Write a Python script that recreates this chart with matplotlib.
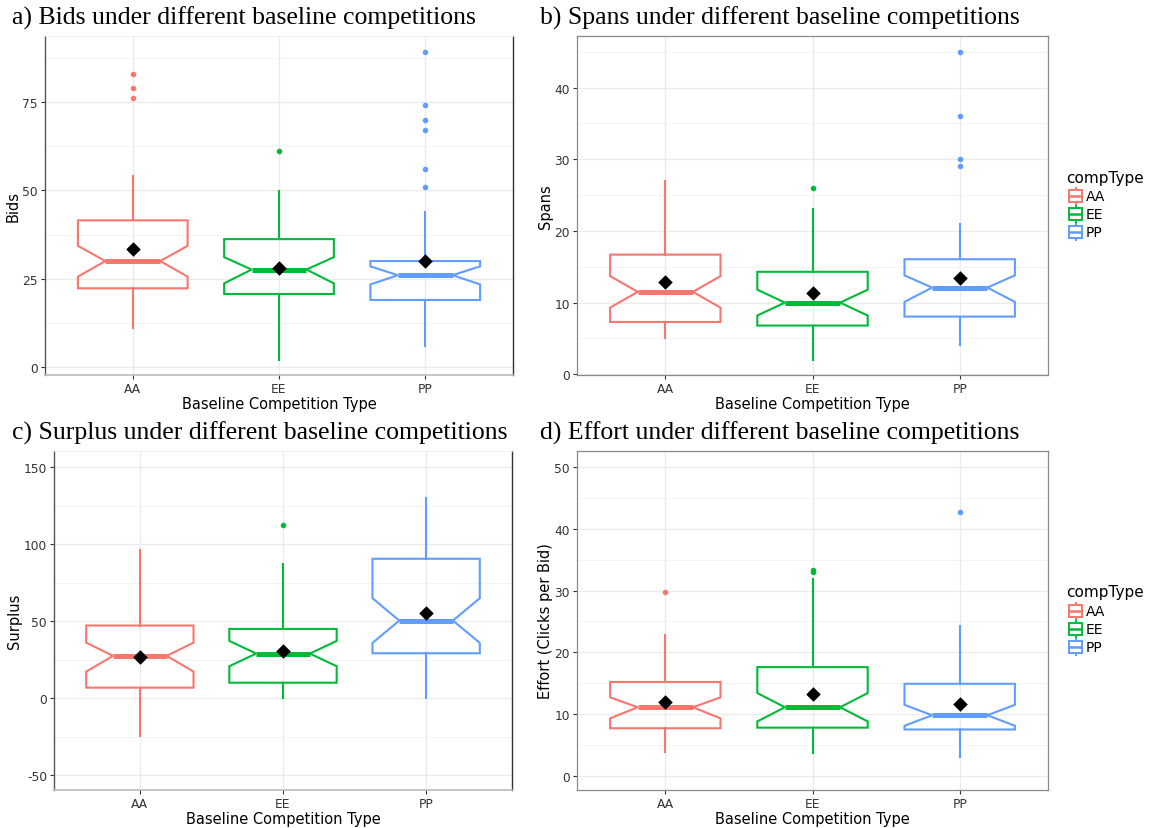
import matplotlib
matplotlib.use("Agg")
import matplotlib.pyplot as plt
from matplotlib.patches import Polygon, Rectangle

# groups and colours (ggplot default hue palette)
groups = ["AA", "EE", "PP"]
colors = ["#F8766D", "#00BA38", "#619CFF"]

# a) Bids
bids_q1 = [22.3, 20.7, 19.0]
bids_med = [30.0, 27.6, 26.0]
bids_q3 = [41.5, 36.2, 30.0]
bids_lo = [11.1, 2.1, 6.1]
bids_hi = [53.9, 49.9, 44.0]
bids_notch_lo = [25.6, 23.7, 23.4]
bids_notch_hi = [34.3, 31.1, 28.5]
bids_mean = [33.3, 28.0, 30.1]
bids_out = [[83.0, 79.0, 76.1], [61.0], [89.0, 74.0, 70.0, 67.0, 55.9, 51.0]]

# b) Spans
spans_q1 = [7.3, 6.8, 8.05]
spans_med = [11.5, 10.0, 12.1]
spans_q3 = [16.7, 14.3, 16.05]
spans_lo = [5.0, 2.05, 4.1]
spans_hi = [27.0, 23.0, 20.9]
spans_notch_lo = [9.3, 8.2, 10.1]
spans_notch_hi = [13.7, 11.8, 13.8]
spans_mean = [12.9, 11.4, 13.45]
spans_out = [[], [26.0], [45.0, 36.0, 30.0, 29.0]]

# c) Surplus
surplus_q1 = [6.9, 10.1, 29.2]
surplus_med = [27.5, 29.0, 50.4]
surplus_q3 = [47.2, 45.0, 90.5]
surplus_lo = [-24.7, 0.2, 0.2]
surplus_hi = [96.3, 87.0, 130.1]
surplus_notch_lo = [17.3, 20.8, 35.9]
surplus_notch_hi = [36.1, 37.2, 64.9]
surplus_mean = [27.0, 30.5, 55.2]
surplus_out = [[], [112.1], []]

# d) Effort
effort_q1 = [7.7, 7.8, 7.5]
effort_med = [11.1, 11.1, 9.8]
effort_q3 = [15.2, 17.6, 14.9]
effort_lo = [3.8, 3.7, 3.1]
effort_hi = [22.8, 31.9, 24.3]
effort_notch_lo = [9.3, 8.8, 8.1]
effort_notch_hi = [12.7, 13.4, 11.5]
effort_mean = [11.9, 13.25, 11.7]
effort_out = [[29.7], [33.4, 33.0], [42.75]]

panels = [
    dict(title="a) Bids under different baseline competitions", ylabel="Bids",
         q1=bids_q1, med=bids_med, q3=bids_q3, lo=bids_lo, hi=bids_hi,
         nlo=bids_notch_lo, nhi=bids_notch_hi, mean=bids_mean, out=bids_out,
         ylim=(-2.2, 93.6), major=[0, 25, 50, 75],
         rect=(45, 37, 513, 376), title_x=12, frame="open", legend=False),
    dict(title="b) Spans under different baseline competitions", ylabel="Spans",
         q1=spans_q1, med=spans_med, q3=spans_q3, lo=spans_lo, hi=spans_hi,
         nlo=spans_notch_lo, nhi=spans_notch_hi, mean=spans_mean, out=spans_out,
         ylim=(-0.1, 47.2), major=[0, 10, 20, 30, 40],
         rect=(577, 37, 1048, 376), title_x=540, frame="box", legend=True),
    dict(title="c) Surplus under different baseline competitions", ylabel="Surplus",
         q1=surplus_q1, med=surplus_med, q3=surplus_q3, lo=surplus_lo, hi=surplus_hi,
         nlo=surplus_notch_lo, nhi=surplus_notch_hi, mean=surplus_mean, out=surplus_out,
         ylim=(-59.5, 160.4), major=[-50, 0, 50, 100, 150],
         rect=(54, 452, 512, 791), title_x=12, frame="open", legend=False),
    dict(title="d) Effort under different baseline competitions", ylabel="Effort (Clicks per Bid)",
         q1=effort_q1, med=effort_med, q3=effort_q3, lo=effort_lo, hi=effort_hi,
         nlo=effort_notch_lo, nhi=effort_notch_hi, mean=effort_mean, out=effort_out,
         ylim=(-2.3, 52.6), major=[0, 10, 20, 30, 40, 50],
         rect=(577, 452, 1048, 791), title_x=540, frame="box", legend=True),
]

W, H = 1150, 829
fig = plt.figure(figsize=(W / 100, H / 100), dpi=100)

BOX_W = 0.75
NOTCH_W = 0.375
LW = 1.5


def draw_box(ax, x, p, i, color):
    q1, med, q3 = p["q1"][i], p["med"][i], p["q3"][i]
    nlo, nhi = p["nlo"][i], p["nhi"][i]
    h, n = BOX_W / 2, NOTCH_W / 2
    pts = [(x - h, q1), (x - h, nlo), (x - n, med), (x - h, nhi), (x - h, q3),
           (x + h, q3), (x + h, nhi), (x + n, med), (x + h, nlo), (x + h, q1)]
    ax.add_patch(Polygon(pts, closed=True, fill=False, edgecolor=color, lw=LW,
                         joinstyle="miter", zorder=3))
    ax.plot([x - n, x + n], [med, med], color=color, lw=LW * 2.4,
            solid_capstyle="butt", zorder=4)
    ax.plot([x, x], [q3, p["hi"][i]], color=color, lw=LW, zorder=3)
    ax.plot([x, x], [q1, p["lo"][i]], color=color, lw=LW, zorder=3)
    outs = p["out"][i]
    if outs:
        ax.scatter([x] * len(outs), outs, s=16, color=color, lw=0, zorder=4)
    ax.scatter([x], [p["mean"][i]], marker="D", s=55, color="black", lw=0, zorder=5)


for p in panels:
    x0, y0, x1, y1 = p["rect"]
    ax = fig.add_axes([x0 / W, 1 - y1 / H, (x1 - x0) / W, (y1 - y0) / H])
    ax.set_xlim(0.4, 3.6)
    ax.set_ylim(*p["ylim"])

    # background grid, minor lines halfway between the majors
    step = p["major"][1] - p["major"][0]
    minors = [v + step / 2 for v in [p["major"][0] - step] + p["major"]]
    for v in minors:
        ax.axhline(v, color="#F3F3F3", lw=0.6, zorder=0)
    for v in p["major"]:
        ax.axhline(v, color="#EBEBEB", lw=1.0, zorder=0)
    for xi in range(1, 4):
        ax.axvline(xi, color="#EBEBEB", lw=1.0, zorder=0)

    for i, g in enumerate(groups):
        draw_box(ax, i + 1, p, i, colors[i])

    ax.set_xticks([1, 2, 3])
    ax.set_xticklabels(groups)
    ax.set_yticks(p["major"])
    ax.set_yticklabels([str(v) for v in p["major"]])
    ax.tick_params(length=3, width=0.8, color="#333333", labelsize=8.8,
                   labelcolor="#333333", pad=2)
    ax.set_xlabel("Baseline Competition Type", fontsize=10.5, labelpad=1)
    ax.set_ylabel(p["ylabel"], fontsize=10.5, labelpad=1)

    if p["frame"] == "box":
        for s in ax.spines.values():
            s.set_color("#8A8A8A")
            s.set_linewidth(0.9)
    else:
        ax.spines["top"].set_color("#EEEEEE")
        ax.spines["top"].set_linewidth(0.6)
        ax.spines["bottom"].set_color("#BBBBBB")
        ax.spines["bottom"].set_linewidth(1.2)
        ax.spines["left"].set_color("#555555")
        ax.spines["left"].set_linewidth(1.0)
        ax.spines["right"].set_color("#333333")
        ax.spines["right"].set_linewidth(1.0)

    fig.text(p["title_x"] / W, 1 - (y0 - 19) / H, p["title"], family="Liberation Serif",
             fontsize=18.5, va="center", ha="left")

    if p["legend"]:
        ly = y0 + 141
        fig.text(1066 / W, 1 - ly / H, "compType", fontsize=11, va="center")
        for i, g in enumerate(groups):
            ky = ly + 19 + i * 18
            lax = fig.add_axes([1068 / W, 1 - (ky + 9) / H, 15 / W, 18 / H])
            lax.set_xlim(0, 1)
            lax.set_ylim(0, 1)
            lax.axis("off")
            lax.add_patch(Rectangle((0.08, 0.17), 0.84, 0.66, fill=False,
                                    edgecolor=colors[i], lw=1.4))
            lax.plot([0.5, 0.5], [0.0, 0.17], color=colors[i], lw=1.4)
            lax.plot([0.5, 0.5], [0.83, 1.0], color=colors[i], lw=1.4)
            lax.plot([0.08, 0.92], [0.5, 0.5], color=colors[i], lw=1.8)
            fig.text(1086 / W, 1 - ky / H, g, fontsize=10, va="center")

fig.savefig("out.png", dpi=100)
